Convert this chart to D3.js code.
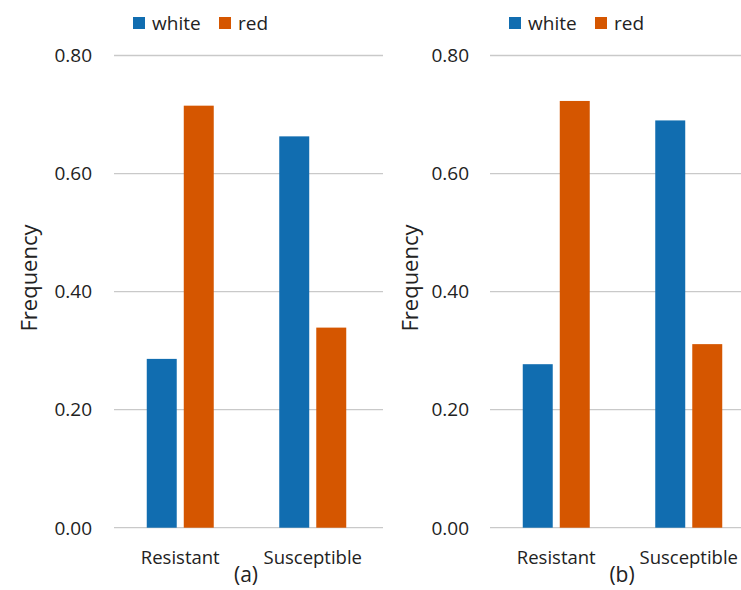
<!DOCTYPE html>
<html lang="en">
<head>
    <meta charset="UTF-8">
    <title>Frequency</title>
    <style>
        body { margin: 0; background: #fff; }
        text { font-family: "Open Sans", "Noto Sans", sans-serif; fill: #222; }
    </style>
</head>
<body>
<div id="container"></div>
<script src="https://cdn.jsdelivr.net/npm/d3@7"></script>
<script>
    const categories = ['Resistant', 'Susceptible']
    const seriesNames = ['white', 'red']
    const yTicks = [0, 0.2, 0.4, 0.6, 0.8]

    // panel (a)
    const whiteA = [0.286, 0.663]
    const redA = [0.715, 0.339]
    // panel (b)
    const whiteB = [0.277, 0.690]
    const redB = [0.723, 0.311]

    const width = 741
    const height = 590
    const colors = {white: '#116db0', red: '#d55600'}

    const svg = d3.select('#container').append('svg')
        .attr('width', width)
        .attr('height', height)

    const y = d3.scaleLinear().domain([0, 0.8]).range([527.7, 55.5])

    const panels = [
        {label: '(a)', white: whiteA, red: redA, x0: 114, x1: 379, tickX: 92, titleX: 37, legendX: 133},
        {label: '(b)', white: whiteB, red: redB, x0: 490, x1: 755, tickX: 469, titleX: 418, legendX: 509}
    ]

    panels.forEach(p => {
        const g = svg.append('g')

        const x = d3.scaleBand().domain(categories).range([p.x0, p.x1])
        const xs = d3.scaleBand().domain(seriesNames).range([0, x.bandwidth()])
            .paddingInner(0.19).paddingOuter(0.885)

        // gridlines
        g.append('g')
            .selectAll('line')
            .data(yTicks)
            .enter()
            .append('line')
            .attr('x1', p.x0)
            .attr('x2', p.x1 + 4)
            .attr('y1', d => y(d))
            .attr('y2', d => y(d))
            .attr('stroke', '#c9c9c9')
            .attr('stroke-width', 1.3)

        // tick labels
        g.append('g')
            .selectAll('text')
            .data(yTicks)
            .enter()
            .append('text')
            .attr('x', p.tickX)
            .attr('y', d => y(d))
            .attr('dy', '0.36em')
            .attr('text-anchor', 'end')
            .attr('font-size', '19px')
            .text(d => d3.format('.2f')(d))

        // bars
        const rows = []
        categories.forEach((c, i) => {
            rows.push({cat: c, s: 'white', v: p.white[i]})
            rows.push({cat: c, s: 'red', v: p.red[i]})
        })
        g.append('g')
            .selectAll('rect')
            .data(rows)
            .enter()
            .append('rect')
            .attr('x', d => x(d.cat) + xs(d.s))
            .attr('y', d => y(d.v))
            .attr('width', xs.bandwidth())
            .attr('height', d => y(0) - y(d.v))
            .attr('fill', d => colors[d.s])

        // category labels
        g.append('g')
            .selectAll('text')
            .data(categories)
            .enter()
            .append('text')
            .attr('x', d => x(d) + x.bandwidth() / 2)
            .attr('y', 564)
            .attr('text-anchor', 'middle')
            .attr('font-size', '18.5px')
            .text(d => d)

        g.append('text')
            .attr('x', p.x0 + x.bandwidth() - 0.5)
            .attr('y', 582)
            .attr('text-anchor', 'middle')
            .attr('font-size', '21px')
            .text(p.label)

        // axis title
        g.append('text')
            .attr('transform', `translate(${p.titleX},278) rotate(-90)`)
            .attr('text-anchor', 'middle')
            .attr('font-size', '22px')
            .text('Frequency')

        // legend
        const lg = g.append('g').attr('transform', `translate(${p.legendX},17)`)
        const offsets = [0, 86]
        seriesNames.forEach((s, i) => {
            lg.append('rect')
                .attr('x', offsets[i])
                .attr('y', 0)
                .attr('width', 12)
                .attr('height', 12)
                .attr('fill', colors[s])
            lg.append('text')
                .attr('x', offsets[i] + 19)
                .attr('y', 6)
                .attr('dy', '0.36em')
                .attr('font-size', '19px')
                .text(s)
        })
    })
</script>
</body>
</html>
